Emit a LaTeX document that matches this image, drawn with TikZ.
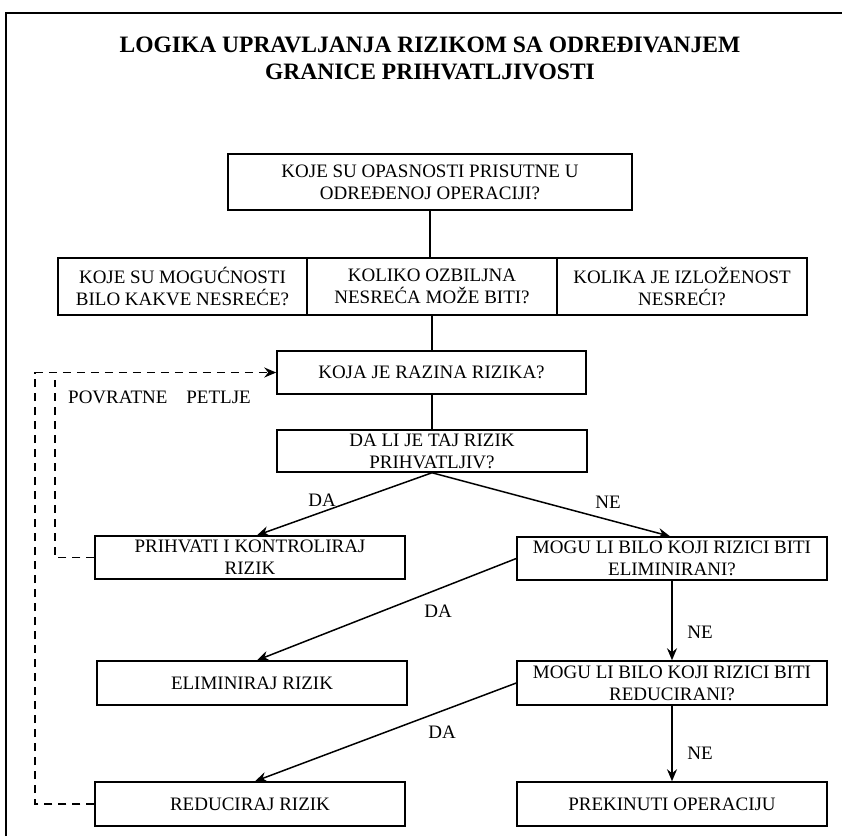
\documentclass[tikz,border=0pt]{standalone}
\usepackage{fontspec}
\setmainfont{Liberation Serif}
\usetikzlibrary{arrows.meta}
\tikzset{
  box/.style={draw, line width=1.5pt, align=center, inner sep=1pt,
    font=\fontsize{19}{22}\selectfont},
  lbl/.style={font=\fontsize{19}{22}\selectfont, inner sep=0pt},
  flow/.style={line width=1.5pt, -{Stealth[length=12pt,width=10pt,inset=4pt]}},
  link/.style={line width=1.5pt},
  feedback/.style={line width=1.8pt, dash pattern=on 8pt off 6pt}
}
\begin{document}
\begin{tikzpicture}[x=1pt,y=-1pt]
\useasboundingbox (0,0) rectangle (842,836);
% Frame and title
\draw[line width=1.8pt] (6,836) -- (6,13) -- (842,13);
\node[align=center, font=\bfseries\fontsize{23.5}{27}\selectfont] (title) at (430,58)
  {LOGIKA UPRAVLJANJA RIZIKOM SA ODREĐIVANJEM\\GRANICE PRIHVATLJIVOSTI};
% Hazards and the three questions
\node[box, minimum width=404pt, minimum height=56pt] (hazards) at (430,182)
  {KOJE SU OPASNOSTI PRISUTNE U\\ODREĐENOJ OPERACIJI?};
\node[box, minimum width=249pt, minimum height=57pt] (chance) at (182.5,286.5)
  {KOJE SU MOGUĆNOSTI\\BILO KAKVE NESREĆE?};
\node[box, minimum width=250pt, minimum height=57pt] (severity) at (432,286.5)
  {KOLIKO OZBILJNA\\NESREĆA MOŽE BITI?};
\node[box, minimum width=250pt, minimum height=57pt] (exposure) at (682,286.5)
  {KOLIKA JE IZLOŽENOST\\NESREĆI?};
% Level and decision
\node[box, minimum width=309pt, minimum height=43pt] (level) at (431.5,372.5)
  {KOJA JE RAZINA RIZIKA?};
\node[box, minimum width=310pt, minimum height=42pt] (accept) at (432,451)
  {DA LI JE TAJ RIZIK\\PRIHVATLJIV?};
% Left column
\node[box, minimum width=310pt, minimum height=43pt] (control) at (250,557.5)
  {PRIHVATI I KONTROLIRAJ\\RIZIK};
\node[box, minimum width=310pt, minimum height=44pt] (elim) at (252,683)
  {ELIMINIRAJ RIZIK};
\node[box, minimum width=310pt, minimum height=44pt] (reduce) at (250,804)
  {REDUCIRAJ RIZIK};
% Right column
\node[box, minimum width=310pt, minimum height=43pt] (canelim) at (672,558.5)
  {MOGU LI BILO KOJI RIZICI BITI\\ELIMINIRANI?};
\node[box, minimum width=310pt, minimum height=44pt] (canreduce) at (672,683)
  {MOGU LI BILO KOJI RIZICI BITI\\REDUCIRANI?};
\node[box, minimum width=310pt, minimum height=44pt] (stop) at (672,804)
  {PREKINUTI OPERACIJU};
% Connections
\draw[link] (hazards.south) -- (severity.north -| hazards.south);
\draw[link] (severity.south) -- (level.north -| severity.south);
\draw[link] (level.south -| accept.north) -- (accept.north);
\draw[flow] (accept.south) -- ([xshift=7pt]control.north);
\draw[flow] (accept.south) -- ([xshift=-2pt]canelim.north);
\draw[flow] (canelim.west) -- ([xshift=5pt]elim.north);
\draw[flow] (canreduce.west) -- ([xshift=5pt]reduce.north);
\draw[flow] (canelim.south) -- (canreduce.north);
\draw[flow] (canreduce.south) -- (stop.north);
% Labels
\node[lbl] (da1) at (322,500) {DA};
\node[lbl] (ne1) at (608,502) {NE};
\node[lbl] (da2) at (438,611) {DA};
\node[lbl] (ne2) at (700,632) {NE};
\node[lbl] (da3) at (442,732) {DA};
\node[lbl] (ne3) at (700,753) {NE};
% Feedback loops
\coordinate (innertop) at (55,380);
\draw[feedback] (control.west) -| (innertop);
\draw[feedback, -{Stealth[length=12pt,width=10pt,inset=4pt]}]
  (reduce.west) -- ++(-59,0) |- (level.west);
\node[lbl, anchor=west] (loops) at (68,397) {POVRATNE\quad PETLJE};
\end{tikzpicture}
\end{document}
